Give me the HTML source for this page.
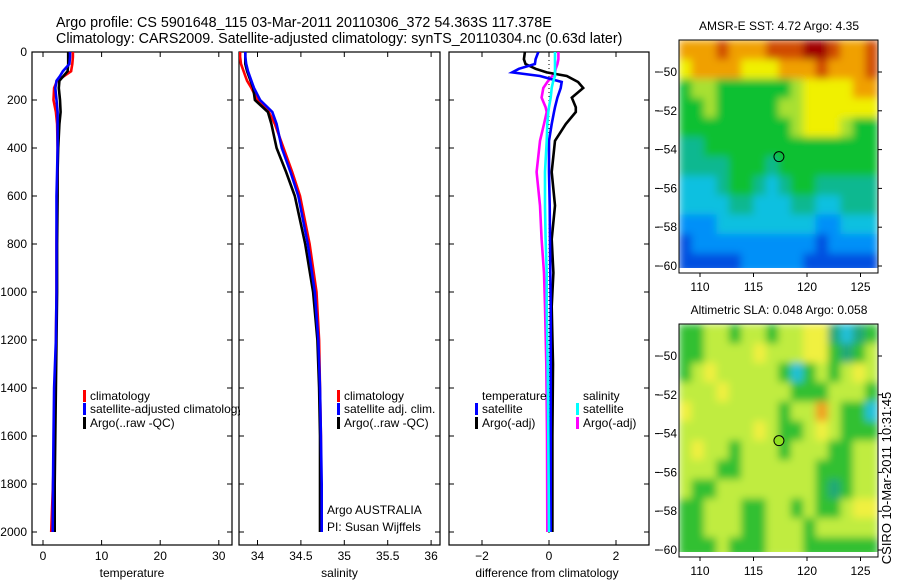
<!DOCTYPE html>
<html><head><meta charset="utf-8">
<style>
html,body{margin:0;padding:0;background:#fff;}
svg{display:block;font-family:"Liberation Sans",sans-serif;}
</style></head>
<body>
<svg id="fig" width="900" height="580" viewBox="0 0 900 580" xmlns="http://www.w3.org/2000/svg">
<defs>
<filter id="smooth" x="0" y="0" width="1" height="1"><feGaussianBlur stdDeviation="4" edgeMode="duplicate"/></filter>
</defs>
<text x="56" y="27" font-size="14.3">Argo profile: CS 5901648_115 03-Mar-2011 20110306_372 54.363S 117.378E</text>
<text x="56" y="43" font-size="14.3">Climatology: CARS2009. Satellite-adjusted climatology: synTS_20110304.nc (0.63d later)</text>
<g id="layer"></g>
<text transform="translate(891,478) rotate(-90)" font-size="13" text-anchor="middle">CSIRO 10-Mar-2011 10:31:45</text>
</svg>
<script>
// ---- data ----
const depthTicks=[0,200,400,600,800,1000,1200,1400,1600,1800,2000];
const tempTicks=[0,10,20,30];
const salTicks=[34,34.5,35,35.5,36];
const diffTicks=[-2,0,2];
const profDepth=[0,20,50,80,100,120,150,200,250,300,400,500,600,800,1000,1200,1400,1600,1800,2000];
const tempClim=[5.1,5.1,5.0,4.8,3.6,2.4,1.9,1.8,2.2,2.4,2.5,2.5,2.4,2.3,2.3,2.2,2.1,2.0,1.7,1.4];
const tempSat=[4.6,4.6,4.5,3.4,2.9,2.3,2.1,2.3,2.5,2.5,2.5,2.4,2.3,2.3,2.3,2.2,1.9,1.8,1.7,1.65];
const tempArgo=[4.3,4.3,4.3,4.2,3.5,2.8,2.7,2.9,3.0,2.8,2.6,2.5,2.5,2.4,2.4,2.3,2.2,2.1,2.0,2.0];
const salClim=[33.80,33.80,33.81,33.84,33.86,33.88,33.93,34.00,34.13,34.20,34.30,34.40,34.49,34.60,34.68,34.71,34.72,34.73,34.73,34.73];
const salSat=[33.86,33.86,33.87,33.89,33.91,33.93,33.96,34.03,34.17,34.22,34.28,34.38,34.47,34.58,34.66,34.70,34.72,34.73,34.74,34.74];
const salArgo=[33.86,33.86,33.86,33.88,33.90,33.92,33.95,33.97,34.12,34.16,34.22,34.33,34.43,34.55,34.64,34.69,34.71,34.72,34.72,34.72];
const diffDepth=[0,30,50,70,85,100,125,150,190,230,250,300,370,500,640,780,920,1060,1300,1600,2000];
const dTempSat=[-0.32,-0.4,-0.42,-0.9,-1.1,-0.27,0.38,0.35,0.25,0.18,0.15,0.08,0.0,0.0,0.02,0.03,0.04,0.05,0.05,0.05,0.05];
const dTempArgo=[-0.72,-0.75,-0.7,-0.4,-0.07,0.53,0.87,1.02,0.68,0.8,0.8,0.5,0.18,0.08,0.18,0.08,0.13,0.08,0.12,0.1,0.1];
const dSalSat=[0.18,0.18,0.18,0.18,0.18,0.18,0.12,0.08,0.05,0.0,-0.02,-0.05,-0.07,-0.12,-0.12,-0.1,-0.07,-0.07,-0.04,-0.02,0.0];
const dSalArgo=[0.28,0.28,0.25,0.2,0.18,0.1,-0.05,-0.17,-0.22,-0.1,-0.07,-0.15,-0.27,-0.37,-0.27,-0.22,-0.15,-0.12,-0.08,-0.06,-0.05];
const lonTicks=[110,115,120,125];
const latTicks=[-50,-52,-54,-56,-58,-60];
const sstGrid=[
[8,8,8,9,8,8,8,9,9,9,10,10,9,8,8,9],
[7,8,8,8,8,7,7,7,8,8,8,9,8,8,8,9],
[5,6,6,5,5,5,5,5,5,6,7,7,7,7,8,8],
[5,5,6,5,5,5,5,5,6,6,7,7,7,7,7,7],
[5,5,5,5,5,5,5,5,5,6,7,7,7,6,5,5],
[4,4,5,5,5,5,5,5,5,5,5,5,5,5,5,5],
[4,4,4,4,5,5,5,4,5,5,5,5,5,5,5,5],
[3,3,3,4,5,5,4,3,4,5,5,4,4,4,4,4],
[3,3,3,3,4,4,3,3,3,4,4,3,3,4,4,4],
[2,2,2,3,3,3,3,3,3,3,3,2,2,3,3,3],
[1,2,2,2,2,2,2,2,2,2,2,1,2,2,2,2],
[1,1,1,1,1,2,2,2,2,2,1,1,1,1,1,1]];
const slaGrid=[
[5,5,6,6,5,6,6,5,6,6,7,7,4,3,4,5],
[5,5,6,6,6,6,7,6,6,6,7,7,5,4,5,6],
[5,6,7,6,6,6,6,6,5,3,5,6,5,6,7,6],
[6,6,6,7,6,6,6,6,6,5,5,5,6,6,6,5],
[7,6,6,6,6,6,6,6,5,6,6,8,6,5,5,3],
[6,6,6,6,6,6,7,6,5,5,6,7,6,5,5,5],
[6,7,6,6,5,6,6,6,5,6,6,6,5,5,6,6],
[6,6,6,5,5,6,6,6,6,6,6,5,5,5,6,6],
[6,5,5,6,6,6,6,6,6,6,6,5,4,5,6,6],
[5,5,6,6,6,5,5,6,6,5,6,5,5,6,7,7],
[5,5,6,6,6,5,5,6,6,6,5,6,6,6,6,6],
[5,5,5,6,5,5,5,6,6,6,5,5,5,5,5,5]];
const argoLon=117.378, argoLat=-54.363;

// ---- helpers ----
const NS="http://www.w3.org/2000/svg";
const layer=document.getElementById('layer');
function mk(tag,attrs,parent){const e=document.createElementNS(NS,tag);for(const k in attrs)e.setAttribute(k,attrs[k]);(parent||layer).appendChild(e);return e;}
function txt(x,y,s,size,anchor,parent){const t=mk('text',{x:x,y:y,'font-size':size,'text-anchor':anchor||'start'},parent);t.textContent=s;return t;}
const yD=d=>52+d*0.24;
const TOP=52,BOT=545;
const panels=[
 {x0:32,x1:232,fx:v=>43+v*5.86,ticks:tempTicks,label:'temperature',name:'temperature-panel'},
 {x0:239,x1:440,fx:v=>257.5+(v-34)*86.8,ticks:salTicks,label:'salinity',name:'salinity-panel'},
 {x0:449,x1:649,fx:v=>549+v*33.5,ticks:diffTicks,label:'difference from climatology',name:'difference-panel'}];
panels.forEach((p,i)=>{
 const g=mk('g',{});
 
 
 p.g=g;
 const cp=mk('clipPath',{id:'clip'+i},g);mk('rect',{x:p.x0,y:TOP,width:p.x1-p.x0,height:BOT-TOP},cp);
 const fr=mk('rect',{x:p.x0,y:TOP,width:p.x1-p.x0,height:BOT-TOP,fill:'none',stroke:'#000','stroke-width':1.2},g);
 
 
 depthTicks.forEach(d=>{const y=yD(d);
  mk('line',{x1:p.x0,x2:p.x0+5,y1:y,y2:y,stroke:'#000'},g);
  mk('line',{x1:p.x1-5,x2:p.x1,y1:y,y2:y,stroke:'#000'},g);});
 p.ticks.forEach(v=>{const x=p.fx(v);
  mk('line',{x1:x,x2:x,y1:TOP,y2:TOP+5,stroke:'#000'},g);
  mk('line',{x1:x,x2:x,y1:BOT-5,y2:BOT,stroke:'#000'},g);
  const t=txt(x,560,String(v).replace('-','\u2212'),12,'middle',g);
  
  });
 const xl=txt((p.x0+p.x1)/2-(i==2?2:0),577,p.label,12,'middle',g);
 
 
});
if(true){
 const g=panels[0].g;
 depthTicks.forEach(d=>{const t=txt(27,yD(d)+4,String(d),12,'end',g);
  
  });
 const z=panels[2].fx(0);
 mk('line',{x1:z,x2:z,y1:TOP,y2:BOT-10,stroke:'#000','stroke-dasharray':'1,3'},panels[2].g);
}
function line(p,i,xs,ds,color,name){
 const pts=xs.map((v,k)=>p.fx(v).toFixed(1)+','+yD(ds[k]).toFixed(1)).join(' ');
 const pl=mk('polyline',{points:pts,fill:'none',stroke:color,'stroke-width':2.6,'clip-path':'url(#clip'+i+')'},p.g);
 
 
}
line(panels[0],0,tempClim,profDepth,'#ff0000','temp-climatology-line');
line(panels[0],0,tempArgo,profDepth,'#000000','temp-argo-line');
line(panels[0],0,tempSat,profDepth,'#0000ff','temp-satellite-line');
line(panels[1],1,salClim,profDepth,'#ff0000','sal-climatology-line');
line(panels[1],1,salArgo,profDepth,'#000000','sal-argo-line');
line(panels[1],1,salSat,profDepth,'#0000ff','sal-satellite-line');
line(panels[2],2,dSalArgo,diffDepth,'#ff00ff','diff-sal-argo-line');
line(panels[2],2,dTempArgo,diffDepth,'#000000','diff-temp-argo-line');
line(panels[2],2,dTempSat,diffDepth,'#0000ff','diff-temp-satellite-line');
line(panels[2],2,dSalSat,diffDepth,'#00ffff','diff-sal-satellite-line');

function legend(g,x,y,color,label,clip){
 const e=mk('g',{},g);
 
 
 if(color)mk('rect',{x:x-7,y:y-10,width:3,height:12,fill:color},e);
 const t=txt(x,y,label,12,'start',e);
 if(clip)t.setAttribute('clip-path',clip);
}
const lg=[400,413,427];
{const cp=mk('clipPath',{id:'clipL'});mk('rect',{x:0,y:0,width:240,height:580},cp);}
legend(panels[0].g,90,lg[0],'#ff0000','climatology');
legend(panels[0].g,90,lg[1],'#0000ff','satellite-adjusted climatology','url(#clipL)');
legend(panels[0].g,90,lg[2],'#000000','Argo(..raw -QC)');
legend(panels[1].g,344,lg[0],'#ff0000','climatology');
legend(panels[1].g,344,lg[1],'#0000ff','satellite adj. clim.');
legend(panels[1].g,344,lg[2],'#000000','Argo(..raw -QC)');
legend(panels[1].g,327,514,null,'Argo AUSTRALIA');
legend(panels[1].g,327,531,null,'PI: Susan Wijffels');
legend(panels[2].g,482,lg[0],null,'temperature');
legend(panels[2].g,482,lg[1],'#0000ff','satellite');
legend(panels[2].g,482,lg[2],'#000000','Argo(-adj)');
legend(panels[2].g,583,lg[0],null,'salinity');
legend(panels[2].g,583,lg[1],'#00ffff','satellite');
legend(panels[2].g,583,lg[2],'#ff00ff','Argo(-adj)');

// ---- maps ----
const pal=['#0020a0','#0050e0','#0090f8','#10c0e0','#10b890','#10c030','#a8e030','#f0f000','#f0a000','#d04c00','#a00000'];
const slaPal=['#0020a0','#0050e0','#0090f8','#20c0d8','#20a878','#30c030','#c0ec40','#f0f040','#f0a020','#d06000','#a00000'];
let mapId=0;
function map(top,grid,palette,title,name,circleFill){
 const g=mk('g',{});
 
 
 const x0=679,x1=878,imgBot=top+228,frBot=top+233;
 const fx=lon=>700+(lon-110)*10.7;
 const fy=lat=>top+32+(-50-lat)*19.4;
 const lonMin=108.04,lonMax=126.6,latTop=-48.35;
 const nC=grid[0].length;
 const cw=(lonMax-lonMin)/nC;
 const id='mclip'+(mapId++);
 const cp=mk('clipPath',{id:id},g);mk('rect',{x:x0,y:top,width:x1-x0,height:imgBot-top},cp);
 const outer=mk('g',{'clip-path':'url(#'+id+')'},g);
 const cells=mk('g',{filter:'url(#smooth)'},outer);
 grid.forEach((row,r)=>row.forEach((v,c)=>{
  const xa=fx(lonMin+c*cw),xb=fx(lonMin+(c+1)*cw);
  const ya=fy(latTop-r),yb=fy(latTop-r-1);
  const cell=mk('rect',{x:xa.toFixed(1),y:ya.toFixed(1),width:(xb-xa+0.6).toFixed(1),height:(yb-ya+0.6).toFixed(1),fill:palette[v]},cells);
  
  
 }));
 mk('rect',{x:x0,y:top,width:x1-x0,height:frBot-top,fill:'none',stroke:'#000'},g);
 latTicks.forEach(l=>{const y=fy(l);
  mk('line',{x1:x1,x2:x1+4,y1:y,y2:y,stroke:'#000'},g);
  mk('line',{x1:655,x2:659,y1:y,y2:y,stroke:'#000'},g);
  const t=txt(677,y+4,String(l).replace('-','\u2212'),12,'end',g);
  
  });
 lonTicks.forEach(l=>{const x=fx(l);
  mk('line',{x1:x,x2:x,y1:frBot,y2:frBot+4,stroke:'#000'},g);
  const t=txt(x,frBot+18,String(l),12,'middle',g);
  
  });
 const c=mk('circle',{cx:fx(argoLon),cy:fy(argoLat),r:5,fill:circleFill,stroke:'#000','stroke-width':1},g);
 
 
 const tt=txt(779,top-10,title,12,'middle',g);
 
 
}
map(40,sstGrid,pal,'AMSR-E SST: 4.72 Argo: 4.35','sst-map','none');
map(324,slaGrid,slaPal,'Altimetric SLA: 0.048 Argo: 0.058','sla-map','#90e020');
</script>
</body></html>
